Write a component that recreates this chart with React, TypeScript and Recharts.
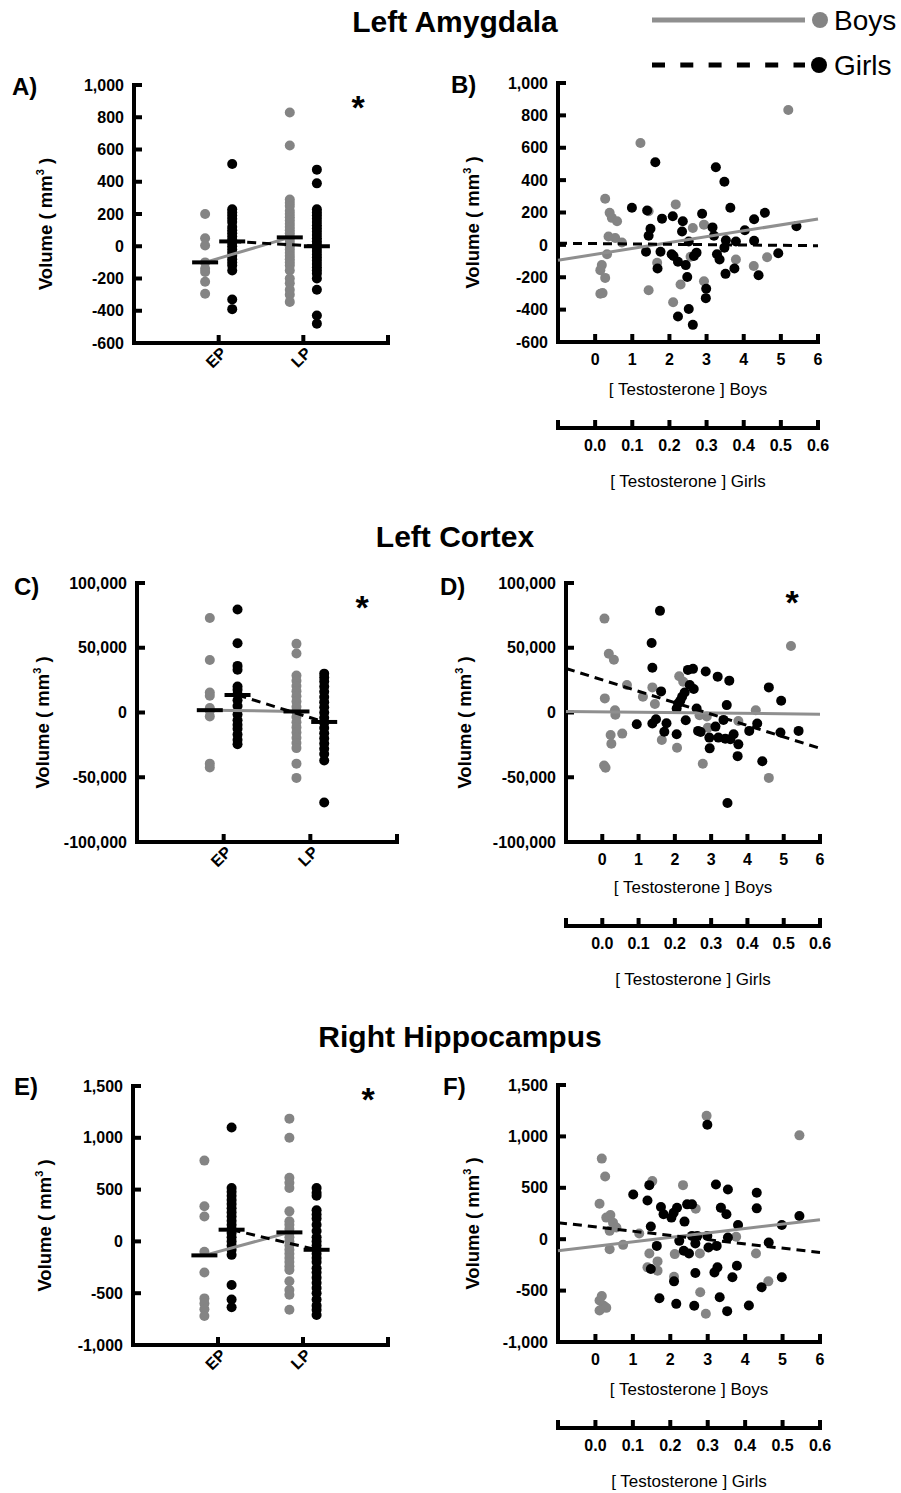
import React from 'react';
import { ScatterChart, Scatter, XAxis, YAxis } from 'recharts';

const FONT = '"Liberation Sans", Arial, Helvetica, sans-serif';
const GRAY = '#848484';
const FIT_GRAY = '#8f8f8f';
const BLACK = '#000000';

// ---------- shared ----------
const CATEGORIES = ['EP', 'LP'];
const BOYS_T_TICKS = [0, 1, 2, 3, 4, 5, 6];
const GIRLS_T_TICKS = [-0.1, 0, 0.1, 0.2, 0.3, 0.4, 0.5, 0.6];
const STRIP_X_TICKS = [1, 2, 3];

// ---------- Panel A (Left Amygdala, by stage) ----------
const A_Y_TICKS = [-600, -400, -200, 0, 200, 400, 600, 800, 1000];
const A_EP_BOYS = [200, 50, 5, -100, -140, -160, -220, -295];
const A_EP_GIRLS = [510, 230, 210, 190, 170, 150, 120, 100, 80, 60, 40, 20, 0, -20, -40, -60, -80, -100, -120, -150, -330, -390];
const A_LP_BOYS = [830, 625, 290, 270, 250, 220, 200, 180, 160, 140, 120, 100, 80, 60, 40, 20, 0, -20, -40, -60, -80, -100, -120, -150, -200, -230, -270, -300, -345];
const A_LP_GIRLS = [475, 390, 230, 210, 190, 170, 150, 130, 110, 90, 70, 50, 30, 10, -10, -30, -50, -70, -90, -110, -130, -150, -170, -200, -270, -430, -480];
const A_MEAN_BOYS = [-100, 55];
const A_MEAN_GIRLS = [30, 0];

// ---------- Panel B (Left Amygdala vs testosterone) ----------
const B_BOYS: [number, number][] = [[0.27, 285], [0.39, 198], [0.45, 167], [0.59, 146], [0.36, 52], [0.54, 42], [0.72, 15], [0.32, -58], [0.18, -125], [0.14, -156], [0.27, -204], [0.14, -302], [0.2, -298], [1.22, 629], [1.44, 208], [1.44, -280], [1.67, -110], [2.17, 250], [2.1, -354], [2.3, -245], [2.63, 104], [2.57, -73], [2.93, 125], [2.93, -225], [3.79, -90], [4.27, -131], [4.63, -77], [5.2, 833]];
const B_GIRLS: [number, number][] = [[0.099, 229], [0.14, 212], [0.149, 100], [0.144, 56], [0.137, -42], [0.162, 510], [0.18, 162], [0.176, -42], [0.168, -146], [0.209, 177], [0.206, -58], [0.211, -69], [0.223, -104], [0.223, -442], [0.236, 146], [0.234, 83], [0.244, -125], [0.248, -198], [0.252, 21], [0.252, -396], [0.263, -494], [0.266, -69], [0.273, -48], [0.288, 192], [0.299, -271], [0.298, -329], [0.316, 108], [0.32, 56], [0.325, 479], [0.328, -58], [0.335, -90], [0.348, 390], [0.352, 29], [0.348, -17], [0.351, -179], [0.364, 229], [0.375, -146], [0.379, 21], [0.403, 90], [0.428, 158], [0.428, 25], [0.44, -188], [0.457, 198], [0.493, -52], [0.542, 115]];
const B_FIT_BOYS: [number, number][] = [[-1, -95], [6, 160]];
const B_FIT_GIRLS: [number, number][] = [[-0.1, 10], [0.6, -5]];

// ---------- Panel C (Left Cortex, by stage) ----------
const C_Y_TICKS = [-100000, -50000, 0, 50000, 100000];
const C_EP_BOYS = [73000, 40500, 15500, 13000, 3500, 1300, -3000, -39500, -42500];
const C_EP_GIRLS = [79500, 53500, 36000, 33000, 20000, 17500, 14000, 9500, 5000, -1500, -6000, -9500, -12500, -17000, -21000, -24500];
const C_LP_BOYS = [53000, 45500, 28500, 24500, 20500, 16500, 12500, 8500, 4500, 500, -3500, -7500, -11500, -15500, -19500, -23500, -27500, -39500, -50500];
const C_LP_GIRLS = [30000, 27000, 24000, 20000, 16000, 12000, 8000, 4000, 0, -4000, -8000, -12000, -16000, -20000, -24000, -28000, -32000, -37000, -69500];
const C_MEAN_BOYS = [1800, 800];
const C_MEAN_GIRLS = [13500, -7300];

// ---------- Panel D (Left Cortex vs testosterone) ----------
const D_BOYS: [number, number][] = [[0.06, 72500], [0.18, 45300], [0.32, 40700], [0.07, 10900], [0.35, 1800], [0.36, -1800], [0.23, -17400], [0.25, -24100], [0.55, -16300], [0.05, -40900], [0.09, -42700], [0.68, 21200], [1.12, 12200], [1.38, 19400], [1.45, 6500], [1.64, -21200], [2.12, 28000], [2.23, 23800], [2.06, -27200], [2.68, -2100], [2.88, -3100], [2.91, -11700], [2.77, -39600], [3.75, -6500], [4.23, 1800], [4.59, -50500], [5.2, 51300]];
const D_GIRLS: [number, number][] = [[0.159, 78500], [0.136, 53600], [0.138, 34500], [0.162, 16300], [0.138, -8500], [0.148, -5200], [0.095, -9100], [0.177, -8300], [0.171, -14800], [0.205, -16800], [0.205, 3100], [0.209, 7000], [0.215, 9100], [0.22, 12200], [0.227, 15500], [0.241, 21200], [0.236, 32900], [0.25, 33700], [0.252, 18100], [0.23, -6000], [0.26, 3100], [0.264, -14200], [0.271, -15000], [0.285, 31600], [0.295, -19400], [0.296, -27700], [0.312, -10900], [0.318, 27700], [0.32, -19400], [0.334, -5700], [0.339, -20200], [0.35, 24600], [0.343, 5700], [0.345, -69900], [0.353, -20700], [0.362, -16800], [0.375, -24600], [0.373, -33700], [0.405, -14200], [0.427, -8500], [0.441, -37600], [0.459, 19400], [0.493, 9100], [0.491, -15500], [0.541, -14200]];
const D_FIT_BOYS: [number, number][] = [[-1, 800], [6, -1300]];
const D_FIT_GIRLS: [number, number][] = [[-0.1, 34000], [0.6, -27700]];

// ---------- Panel E (Right Hippocampus, by stage) ----------
const E_Y_TICKS = [-1000, -500, 0, 500, 1000, 1500];
const E_EP_BOYS = [780, 340, 240, -100, -300, -550, -600, -655, -720];
const E_EP_GIRLS = [1100, 515, 480, 440, 400, 360, 320, 280, 240, 200, 160, 120, 80, 40, 0, -40, -80, -130, -420, -560, -635];
const E_LP_BOYS = [1185, 1000, 615, 565, 515, 290, 195, 160, 120, 80, 40, 0, -40, -80, -120, -160, -200, -240, -275, -385, -470, -515, -660];
const E_LP_GIRLS = [515, 470, 440, 300, 260, 220, 160, 100, 40, 0, -40, -80, -120, -160, -200, -260, -300, -350, -400, -450, -500, -560, -620, -660, -710];
const E_MEAN_BOYS = [-135, 87];
const E_MEAN_GIRLS = [113, -81];

// ---------- Panel F (Right Hippocampus vs testosterone) ----------
const F_BOYS: [number, number][] = [[0.17, 784], [0.26, 610], [0.11, 345], [0.29, 210], [0.4, 235], [0.47, 161], [0.38, 81], [0.56, 113], [0.38, -97], [0.74, -55], [0.17, -552], [0.11, -597], [0.22, -648], [0.29, -668], [0.11, -694], [1.17, 55], [1.52, 565], [1.44, -139], [1.66, -216], [1.39, -274], [1.66, -306], [2.12, -145], [2.1, -365], [2.34, 526], [2.68, 297], [2.79, -139], [2.8, -516], [2.95, -726], [2.97, 1200], [3.36, 306], [3.76, 23], [4.29, -139], [4.62, -410], [5.45, 1010]];
const F_GIRLS: [number, number][] = [[0.101, 435], [0.139, 377], [0.144, 526], [0.148, 123], [0.148, -290], [0.164, -65], [0.171, -574], [0.175, 313], [0.182, 242], [0.203, 210], [0.209, 258], [0.218, 306], [0.224, -16], [0.21, -410], [0.216, -629], [0.238, 171], [0.236, -113], [0.245, 339], [0.25, -139], [0.258, 339], [0.258, 32], [0.267, -329], [0.267, -42], [0.264, -648], [0.272, 32], [0.299, 1113], [0.299, 32], [0.302, -81], [0.322, 532], [0.324, -65], [0.318, -323], [0.326, -274], [0.335, 306], [0.332, -565], [0.35, 242], [0.354, 16], [0.354, 484], [0.352, -700], [0.366, -371], [0.378, -258], [0.381, 139], [0.41, -645], [0.431, 452], [0.431, 300], [0.444, -468], [0.463, -32], [0.498, 139], [0.498, -371], [0.545, 226]];
const F_FIT_BOYS: [number, number][] = [[-1, -113], [6, 190]];
const F_FIT_GIRLS: [number, number][] = [[-0.1, 161], [0.6, -129]];

// ---------- helpers ----------
const SEX_OFFSET = 0.16;
const toXY = (pts: [number, number][]) => pts.map(([x, y]) => ({ x, y }));
const stripPoints = (groups: number[][], side: number) =>
  groups.flatMap((vals, i) => vals.map((v) => ({ x: i + 1 + side * SEX_OFFSET, y: v })));
const meanPoints = (means: number[], side: number) =>
  means.map((v, i) => ({ x: i + 1 + side * SEX_OFFSET, y: v }));
const fmt = (v: number) => v.toLocaleString('en-US');

const axisLineStyle = { stroke: BLACK, strokeWidth: 4, strokeLinecap: 'square' as const };
const tickLineStyle = { stroke: BLACK, strokeWidth: 4 };
const yTickStyle = { fontFamily: FONT, fontWeight: 700, fontSize: 16, fill: BLACK };
const xTickStyle = { fontFamily: FONT, fontWeight: 700, fontSize: 16, fill: BLACK };

const dotShape = (color: string) => (p: any) => <circle cx={p.cx} cy={p.cy} r={5} fill={color} />;
const noShape = () => <g />;
const meanBar = (p: any) => (
  <line x1={p.cx - 13} x2={p.cx + 13} y1={p.cy} y2={p.cy} stroke={BLACK} strokeWidth={4} />
);

const YTitle = ({ viewBox, dx }: any) => {
  const x = viewBox.x + dx + 6;
  const y = viewBox.y + viewBox.height / 2 + 10;
  return (
    <text transform={`translate(${x},${y}) rotate(-90)`} textAnchor="middle" fontFamily={FONT} fontWeight={700} fontSize={18.5} fill={BLACK}>
      Volume ( mm<tspan dy={-8} fontSize={11}>3</tspan><tspan dy={8}> )</tspan>
    </text>
  );
};

const StripTick = (p: any) => {
  const lab = CATEGORIES[p.payload.value - 1];
  if (!lab) return <g />;
  const x = p.x + 9;
  const y = p.y + 11;
  return (
    <text x={x} y={y} transform={`rotate(-45 ${x} ${y})`} textAnchor="end" fontFamily={FONT} fontWeight={700} fontSize={16} fill={BLACK}>
      {lab}
    </text>
  );
};

type StripProps = {
  left: number; top: number; yW: number; plotW: number; plotH: number; ylabDx: number;
  yTicks: number[]; ep: [number[], number[]]; lp: [number[], number[]]; meanBoys: number[]; meanGirls: number[];
};

function StripPanel(s: StripProps) {
  const boys = stripPoints([s.ep[0], s.lp[0]], -1);
  const girls = stripPoints([s.ep[1], s.lp[1]], 1);
  const mb = meanPoints(s.meanBoys, -1);
  const mg = meanPoints(s.meanGirls, 1);
  const yDomain = [s.yTicks[0], s.yTicks[s.yTicks.length - 1]];
  return (
    <div style={{ position: 'absolute', left: s.left, top: s.top }}>
      <ScatterChart width={s.yW + s.plotW + 20} height={15 + s.plotH + 50} margin={{ top: 15, right: 20, bottom: 0, left: 0 }}>
        <XAxis type="number" dataKey="x" domain={[0, 3]} ticks={STRIP_X_TICKS} interval={0} height={50}
          tickSize={-8} tickMargin={8} tick={<StripTick />} axisLine={axisLineStyle} tickLine={tickLineStyle} />
        <YAxis type="number" dataKey="y" domain={yDomain} ticks={s.yTicks} interval={0} width={s.yW}
          tickSize={-8} tickMargin={18} tickFormatter={fmt} tick={yTickStyle} axisLine={axisLineStyle} tickLine={tickLineStyle}
          label={{ content: (p: any) => <YTitle viewBox={p.viewBox} dx={s.ylabDx} /> }} />
        <Scatter data={boys} shape={dotShape(GRAY)} isAnimationActive={false} />
        <Scatter data={girls} shape={dotShape(BLACK)} isAnimationActive={false} />
        <Scatter data={mb} shape={noShape} line={{ stroke: FIT_GRAY, strokeWidth: 3 }} isAnimationActive={false} />
        <Scatter data={mg} shape={noShape} line={{ stroke: BLACK, strokeWidth: 3, strokeDasharray: '9 6' }} isAnimationActive={false} />
        <Scatter data={mb} shape={meanBar} isAnimationActive={false} />
        <Scatter data={mg} shape={meanBar} isAnimationActive={false} />
      </ScatterChart>
    </div>
  );
}

type CorrProps = {
  left: number; top: number; yW: number; plotW: number; plotH: number; ylabDx: number; bH: number;
  yTicks: number[]; boys: [number, number][]; girls: [number, number][]; fitBoys: [number, number][]; fitGirls: [number, number][];
};

function CorrPanel(s: CorrProps) {
  const yDomain = [s.yTicks[0], s.yTicks[s.yTicks.length - 1]];
  const gH = 62;
  return (
    <div style={{ position: 'absolute', left: s.left, top: s.top }}>
      <ScatterChart width={s.yW + s.plotW + 20} height={15 + s.plotH + s.bH + gH} margin={{ top: 15, right: 20, bottom: 0, left: 0 }}>
        <XAxis xAxisId="b" type="number" dataKey="x" domain={[-1, 6]} ticks={BOYS_T_TICKS} interval={0} height={s.bH}
          tickSize={-8} tickMargin={20} tick={xTickStyle} axisLine={axisLineStyle} tickLine={tickLineStyle}
          label={{ value: '[ Testosterone ] Boys', position: 'insideBottom', offset: 33, fontFamily: FONT, fontSize: 17, fill: BLACK }} />
        <XAxis xAxisId="g" type="number" dataKey="x" domain={[-0.1, 0.6]} ticks={GIRLS_T_TICKS} interval={0} height={gH}
          tickSize={-8} tickMargin={20} tick={xTickStyle} axisLine={axisLineStyle} tickLine={tickLineStyle}
          tickFormatter={(v: number) => (v < -0.05 ? '' : v.toFixed(1))}
          label={{ value: '[ Testosterone ] Girls', position: 'insideBottom', offset: 3, fontFamily: FONT, fontSize: 17, fill: BLACK }} />
        <YAxis type="number" dataKey="y" domain={yDomain} ticks={s.yTicks} interval={0} width={s.yW}
          tickSize={-8} tickMargin={18} tickFormatter={fmt} tick={yTickStyle} axisLine={axisLineStyle} tickLine={tickLineStyle}
          label={{ content: (p: any) => <YTitle viewBox={p.viewBox} dx={s.ylabDx} /> }} />
        <Scatter xAxisId="b" data={toXY(s.boys)} shape={dotShape(GRAY)} isAnimationActive={false} />
        <Scatter xAxisId="g" data={toXY(s.girls)} shape={dotShape(BLACK)} isAnimationActive={false} />
        <Scatter xAxisId="b" data={toXY(s.fitBoys)} shape={noShape} line={{ stroke: FIT_GRAY, strokeWidth: 3 }} isAnimationActive={false} />
        <Scatter xAxisId="g" data={toXY(s.fitGirls)} shape={noShape} line={{ stroke: BLACK, strokeWidth: 3, strokeDasharray: '9 6' }} isAnimationActive={false} />
      </ScatterChart>
    </div>
  );
}

const titleStyle = { fontFamily: FONT, fontWeight: 700, fontSize: 30, fill: BLACK };
const letterStyle = { fontFamily: FONT, fontWeight: 700, fontSize: 24, fill: BLACK };
const starStyle = { fontFamily: FONT, fontWeight: 700, fontSize: 34, fill: BLACK };

export default function App() {
  return (
    <div style={{ position: 'absolute', left: 0, top: 0, width: 901, height: 1493, background: '#fff' }}>
      <StripPanel left={20} top={70} yW={114} plotW={254} plotH={258} ylabDx={26} yTicks={A_Y_TICKS}
        ep={[A_EP_BOYS, A_EP_GIRLS]} lp={[A_LP_BOYS, A_LP_GIRLS]} meanBoys={A_MEAN_BOYS} meanGirls={A_MEAN_GIRLS} />
      <CorrPanel left={440} top={68} yW={118} plotW={260} plotH={259} ylabDx={33} bH={86} yTicks={A_Y_TICKS}
        boys={B_BOYS} girls={B_GIRLS} fitBoys={B_FIT_BOYS} fitGirls={B_FIT_GIRLS} />
      <StripPanel left={20} top={568} yW={117} plotW={260} plotH={259} ylabDx={23} yTicks={C_Y_TICKS}
        ep={[C_EP_BOYS, C_EP_GIRLS]} lp={[C_LP_BOYS, C_LP_GIRLS]} meanBoys={C_MEAN_BOYS} meanGirls={C_MEAN_GIRLS} />
      <CorrPanel left={440} top={568} yW={126} plotW={254} plotH={259} ylabDx={25} bH={84} yTicks={C_Y_TICKS}
        boys={D_BOYS} girls={D_GIRLS} fitBoys={D_FIT_BOYS} fitGirls={D_FIT_GIRLS} />
      <StripPanel left={20} top={1071} yW={113} plotW={255} plotH={259} ylabDx={25} yTicks={E_Y_TICKS}
        ep={[E_EP_BOYS, E_EP_GIRLS]} lp={[E_LP_BOYS, E_LP_GIRLS]} meanBoys={E_MEAN_BOYS} meanGirls={E_MEAN_GIRLS} />
      <CorrPanel left={440} top={1070} yW={118} plotW={262} plotH={257} ylabDx={33} bH={86} yTicks={E_Y_TICKS}
        boys={F_BOYS} girls={F_GIRLS} fitBoys={F_FIT_BOYS} fitGirls={F_FIT_GIRLS} />
      <svg width={901} height={1493} style={{ position: 'absolute', left: 0, top: 0, pointerEvents: 'none' }}>
        <text x={455} y={32} textAnchor="middle" style={titleStyle}>Left Amygdala</text>
        <text x={455} y={547} textAnchor="middle" style={titleStyle}>Left Cortex</text>
        <text x={460} y={1047} textAnchor="middle" style={titleStyle}>Right Hippocampus</text>
        <text x={12} y={95} style={letterStyle}>A)</text>
        <text x={451} y={93} style={letterStyle}>B)</text>
        <text x={14} y={595} style={letterStyle}>C)</text>
        <text x={440} y={595} style={letterStyle}>D)</text>
        <text x={14} y={1095} style={letterStyle}>E)</text>
        <text x={443} y={1095} style={letterStyle}>F)</text>
        <text x={358} y={119} textAnchor="middle" style={starStyle}>*</text>
        <text x={362} y={619} textAnchor="middle" style={starStyle}>*</text>
        <text x={792} y={614} textAnchor="middle" style={starStyle}>*</text>
        <text x={368} y={1111} textAnchor="middle" style={starStyle}>*</text>
        <line x1={652} x2={805} y1={20} y2={20} stroke={FIT_GRAY} strokeWidth={5} />
        <circle cx={820} cy={20} r={8} fill={GRAY} />
        <text x={834} y={30} style={{ fontFamily: FONT, fontSize: 28, fill: BLACK }}>Boys</text>
        <line x1={652} x2={805} y1={65} y2={65} stroke={BLACK} strokeWidth={5} strokeDasharray="13 15.3" />
        <circle cx={819} cy={65} r={8} fill={BLACK} />
        <text x={834} y={75} style={{ fontFamily: FONT, fontSize: 28, fill: BLACK }}>Girls</text>
      </svg>
    </div>
  );
}
